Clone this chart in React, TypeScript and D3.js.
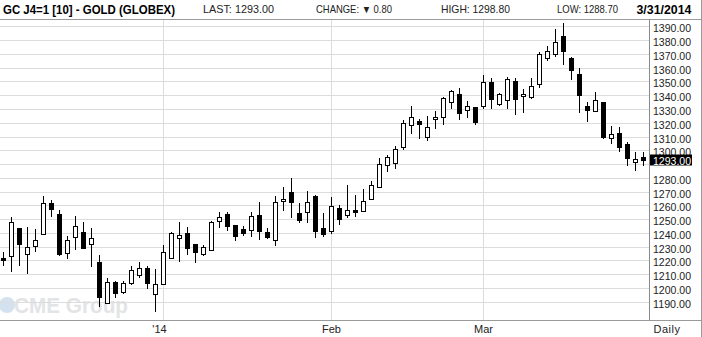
import React from "react";
import * as d3 from "d3";

const dates = [
  "2013-12-03","2013-12-04","2013-12-05","2013-12-06","2013-12-09","2013-12-10","2013-12-11","2013-12-12","2013-12-13",
  "2013-12-16","2013-12-17","2013-12-18","2013-12-19","2013-12-20","2013-12-23","2013-12-24","2013-12-26","2013-12-27",
  "2013-12-30","2013-12-31",
  "2014-01-02","2014-01-03","2014-01-06","2014-01-07","2014-01-08","2014-01-09","2014-01-10","2014-01-13","2014-01-14",
  "2014-01-15","2014-01-16","2014-01-17","2014-01-21","2014-01-22","2014-01-23","2014-01-24","2014-01-27","2014-01-28",
  "2014-01-29","2014-01-30","2014-01-31",
  "2014-02-03","2014-02-04","2014-02-05","2014-02-06","2014-02-07","2014-02-10","2014-02-11","2014-02-12","2014-02-13",
  "2014-02-14","2014-02-18","2014-02-19","2014-02-20","2014-02-21","2014-02-24","2014-02-25","2014-02-26","2014-02-27",
  "2014-02-28",
  "2014-03-03","2014-03-04","2014-03-05","2014-03-06","2014-03-07","2014-03-10","2014-03-11","2014-03-12","2014-03-13",
  "2014-03-14","2014-03-17","2014-03-18","2014-03-19","2014-03-20","2014-03-21","2014-03-24","2014-03-25","2014-03-26",
  "2014-03-27","2014-03-28","2014-03-31"
];

const opens = [
  1221.8,1223.5,1243.3,1224.9,1230.2,1239,1262,1254,1225.4,1237.3,1240.9,1232.2,1218.6,1189.3,1204.5,1197.3,1203.9,1209.8,1214.4,1195.6,
  1203.2,1222.1,1236.3,1239.8,1231.6,1225,1227.6,1248.3,1253.6,1245.4,1242.7,1242.1,1253,1241,1235.2,1263,1269.8,1254.5,1255.5,1266.9,1243.8,
  1241.5,1258.2,1253,1256.6,1256,1264.7,1273.5,1289.5,1290.5,1302.1,1318,1321.6,1310,1322.4,1324.3,1335.4,1341.2,1328.9,1331.1,
  1331.8,1349.9,1333.7,1336.2,1350.6,1339.8,1338.8,1348,1367.3,1370.2,1383.2,1367.3,1355.7,1331.8,1328.2,1334.7,1308.6,1312.2,1304.7,1291.2,1295
];
const highs = [
  1226.8,1251.6,1244,1244.8,1243.1,1267.3,1264,1257.2,1238.2,1252.8,1248.2,1244.3,1224.2,1207.4,1205.5,1205.5,1216,1219.5,1216.2,1214.4,
  1231.8,1240.8,1248.5,1244.7,1232,1231.8,1249.3,1255.8,1255.8,1245.6,1245.4,1255.8,1262.8,1243.6,1266.9,1273.7,1280.2,1261.8,1270.5,1267.6,1254.7,
  1266.4,1260.4,1275.1,1267.9,1272.2,1277.8,1294.5,1297.2,1303.8,1322.7,1332.8,1323.3,1325.3,1329.1,1339,1343.9,1345.8,1336.1,1331.8,
  1355.2,1352.8,1342.2,1353.8,1352.8,1344.8,1352.8,1371.9,1376,1388.6,1392.9,1368,1360.3,1335.4,1342.9,1335.4,1318,1317.3,1306.7,1299,1298.8
];
const lows = [
  1216,1212.3,1216.7,1210.8,1226.8,1238.5,1251.8,1223.7,1221.5,1227.8,1228.7,1215.7,1186.8,1189,1192.8,1196.3,1202.5,1207.6,1199.3,1183.3,
  1202.8,1221.8,1219,1224.4,1218.2,1223.3,1227.2,1243.7,1242.1,1234.5,1237.8,1237.5,1235.2,1236,1230.6,1256.5,1251.4,1247.5,1247.5,1236.9,1237.5,
  1239.8,1246.3,1251.3,1251.8,1255.3,1264,1273.3,1284.4,1286.9,1300.4,1312,1308.4,1307.4,1315.6,1318.5,1330.6,1322.4,1323.9,1318.9,
  1330.3,1330.6,1332.3,1330.6,1326.3,1327.4,1337.3,1345.6,1364.9,1367.8,1362,1351.1,1327.2,1320.9,1328,1308.4,1305,1298.9,1288.6,1285,1288.7
];
const closes = [
  1221,1248.2,1232.2,1229.8,1235.1,1262,1257.6,1224.4,1235.1,1245.3,1229.1,1236.1,1193.4,1204.5,1196.5,1203.8,1213.3,1214.8,1203.3,1203.2,
  1225.8,1239.8,1238.8,1229.2,1225.8,1230.1,1247.8,1251.9,1245,1238.1,1240.3,1252.3,1241.4,1237.3,1262.7,1264.7,1262.5,1249.4,1262.5,1241.2,1239.2,
  1259.6,1249.9,1256.7,1256,1263.3,1274.9,1290.1,1295.3,1300.9,1319.8,1324.5,1319.2,1316.6,1323.8,1337.6,1342.9,1327.2,1331.8,1320.6,
  1349.9,1336.9,1340.5,1352.1,1337.4,1341.2,1346.3,1370.2,1372.4,1378.9,1372.4,1358.4,1340.2,1329.4,1336.4,1310,1311.5,1302.5,1294.1,1293.8,1293
];

const priceTicks = [1190,1200,1210,1220,1230,1240,1250,1260,1270,1280,1290,1300,1310,1320,1330,1340,1350,1360,1370,1380,1390];
const monthLabels = ["'14", "Feb", "Mar"];
const monthStarts = ["2014-01-02", "2014-02-03", "2014-03-03"];
const titleText = "GC J4=1 [10] - GOLD (GLOBEX)";
const headerItems = ["LAST: 1293.00", "CHANGE: \u25BC 0.80", "HIGH: 1298.80", "LOW: 1288.70"];
const dateText = "3/31/2014";
const lastPrice = 1293.0;

const FONT = "'Liberation Sans', Arial, sans-serif";
const NARROW = "'Liberation Sans Narrow', 'Liberation Sans', Arial, sans-serif";

export default function App() {
  const W = 702, H = 337;
  const plotRight = 649.5, plotTop = 19.5, plotBottom = 320.5;
  const x = d3.scaleLinear().domain([0, dates.length - 1]).range([3.5, 643.5]);
  const y = d3.scaleLinear().domain([1190, 1390]).range([302.3, 26.8]);
  const crisp = (v: number) => Math.round(v - 0.5) + 0.5;

  const headerX = [203, 316, 441, 557];
  const headerW = [71, 76, 69, 61];
  const boxY = Math.round(y(lastPrice)) - 5.5;

  return (
    <svg width={W} height={H} style={{ position: "absolute", left: 0, top: 0, display: "block", background: "#fff" }}>
      <rect x={0} y={0} width={W} height={H} fill="#fff" />
      {/* watermark */}
      <g>
        <circle cx={7} cy={305} r={8} fill="#d3e2ee" />
        <text x={14} y={313} fontFamily={FONT} fontWeight="bold" fontSize={22} fill="#e2e4e6" textLength={114} lengthAdjust="spacingAndGlyphs">CME Group</text>
      </g>
      {/* horizontal gridlines */}
      {priceTicks.map((t) => (
        <line key={"g" + t} x1={0} x2={plotRight} y1={crisp(y(t))} y2={crisp(y(t))} stroke="#dcdcdc" strokeWidth={1} />
      ))}
      {/* vertical month gridlines */}
      {monthStarts.map((d) => {
        const xi = x(dates.indexOf(d));
        return <line key={"v" + d} x1={xi} x2={xi} y1={plotTop} y2={plotBottom} stroke="#dcdcdc" strokeWidth={1} />;
      })}
      {/* frame */}
      <line x1={0} x2={W} y1={plotTop} y2={plotTop} stroke="#9a9a9a" />
      <line x1={0} x2={W} y1={plotBottom} y2={plotBottom} stroke="#9a9a9a" />
      <line x1={plotRight} x2={plotRight} y1={plotTop} y2={plotBottom} stroke="#8a8a8a" />
      <line x1={701.5} x2={701.5} y1={0} y2={H} stroke="#9a9a9a" />
      {/* candles */}
      {dates.map((d, i) => {
        const cx = x(i);
        const o = opens[i], c = closes[i];
        const top = crisp(y(Math.max(o, c)));
        let bot = crisp(y(Math.min(o, c)));
        if (bot - top < 2) bot = top + 2;
        const up = c > o;
        return (
          <g key={d}>
            <line x1={cx} x2={cx} y1={Math.round(y(highs[i]))} y2={Math.round(y(lows[i]))} stroke="#000" strokeWidth={1} />
            <rect x={cx - 2} y={top} width={4} height={bot - top} fill={up ? "#fff" : "#000"} stroke="#000" strokeWidth={1} />
          </g>
        );
      })}
      {/* right axis labels (the one hidden behind the last-price box is skipped) */}
      {priceTicks
        .filter((t) => Math.abs(y(t) - y(lastPrice)) > 6)
        .map((t) => (
          <text key={"l" + t} x={653} y={crisp(y(t)) + 5} fontFamily={FONT} fontSize={11} fill="#222" textLength={38} lengthAdjust="spacingAndGlyphs">
            {t.toFixed(2)}
          </text>
        ))}
      {/* last price box */}
      <rect x={650} y={boxY} width={42} height={11} fill="#000" />
      <text x={653} y={boxY + 10} fontFamily={FONT} fontSize={11} fill="#fff" textLength={38} lengthAdjust="spacingAndGlyphs">
        {lastPrice.toFixed(2)}
      </text>
      {/* bottom labels */}
      {monthStarts.map((d, k) => (
        <text key={"m" + d} x={x(dates.indexOf(d)) - (k === 0 ? 4 : 0)} y={333} textAnchor="middle" fontFamily={FONT} fontSize={11} fill="#222">
          {monthLabels[k]}
        </text>
      ))}
      <text x={667} y={333} textAnchor="middle" fontFamily={FONT} fontSize={11} fill="#222" letterSpacing={0.5}>Daily</text>
      {/* header */}
      <text x={3} y={14} fontFamily={NARROW} fontWeight="bold" fontSize={13} fill="#000" textLength={172} lengthAdjust="spacingAndGlyphs">{titleText}</text>
      {headerItems.map((h, k) => (
        <text key={"h" + k} x={headerX[k]} y={13} fontFamily={FONT} fontSize={10.5} fill="#222" textLength={headerW[k]} lengthAdjust="spacingAndGlyphs">{h}</text>
      ))}
      <text x={636.5} y={14} fontFamily={NARROW} fontWeight="bold" fontSize={13} fill="#000" textLength={55} lengthAdjust="spacingAndGlyphs">{dateText}</text>
    </svg>
  );
}
